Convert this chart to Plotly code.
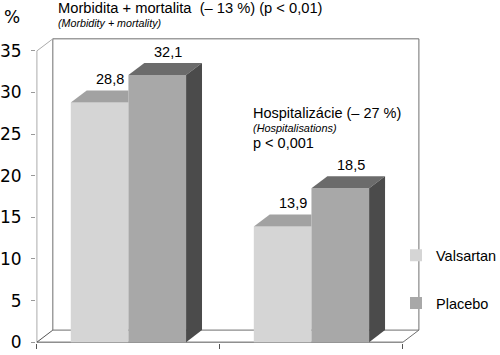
import plotly.graph_objects as go

# ---- data ----
categories = ["Morbidita + mortalita", "Hospitalizácie"]
valsartan = [28.8, 13.9]
placebo = [32.1, 18.5]
series_names = ["Valsartan", "Placebo"]
y_ticks = [0, 5, 10, 15, 20, 25, 30, 35]

# ---- style ----
V_FRONT, V_TOP = "#d5d5d5", "#a2a2a2"
P_FRONT, P_TOP, P_SIDE = "#a8a8a8", "#6b6b6b", "#4b4b4b"
TXT = "Liberation Sans"
W = 0.315          # bar width (category units)
DX, DY = 0.087, 1.45   # 3D depth offset (x units, y units)
YMAX = max(y_ticks)

xc = list(range(len(categories)))

fig = go.Figure()
# front faces
fig.add_trace(go.Bar(x=xc, y=valsartan, width=W, offset=-W, name=series_names[0],
                     marker=dict(color=V_FRONT, line=dict(width=0)), legendgroup="v",
                     hoverinfo="skip"))
fig.add_trace(go.Bar(x=xc, y=placebo, width=W, offset=0, name=series_names[1],
                     marker=dict(color=P_FRONT, line=dict(width=0)), legendgroup="p",
                     hoverinfo="skip"))

def poly(xs, ys, color):
    fig.add_trace(go.Scatter(x=xs + [xs[0]], y=ys + [ys[0]], mode="lines", fill="toself",
                             fillcolor=color, line=dict(width=0, color=color),
                             showlegend=False, hoverinfo="skip"))

for c, v, p in zip(xc, valsartan, placebo):
    x0, x1, x2 = c - W, c, c + W
    # valsartan top (part not hidden by the taller placebo bar)
    poly([x0, x1, x1, x0 + DX], [v, v, v + DY, v + DY], V_TOP)
    # placebo top
    poly([x1, x2, x2 + DX, x1 + DX], [p, p, p + DY, p + DY], P_TOP)
    # placebo side
    poly([x2, x2, x2 + DX, x2 + DX], [0, p, p + DY, DY], P_SIDE)

# value labels
for c, v, p in zip(xc, valsartan, placebo):
    for cx, val in ((c - W / 2, v), (c + W / 2, p)):
        fig.add_annotation(x=cx + DX * 0.65, y=val + DY, text=f"{val:.1f}".replace(".", ","),
                           showarrow=False, yanchor="bottom", yshift=1,
                           font=dict(family=TXT, size=14.5, color="#000"))

# ---- frame (walls / floor) ----
XL, XR = -0.5, len(categories) - 0.5
shapes = [
    dict(type="rect", x0=XL + DX, x1=XR + DX, y0=DY, y1=YMAX + DY, line=dict(color="#6e6e6e", width=1)),
    dict(type="line", x0=XL, x1=XL, y0=0, y1=YMAX, line=dict(color="#ababab", width=1)),
    dict(type="line", x0=XL, x1=XL + DX, y0=YMAX, y1=YMAX + DY, line=dict(color="#ababab", width=1)),
    dict(type="line", x0=XL, x1=XL + DX, y0=0, y1=DY, line=dict(color="#555555", width=1)),
    dict(type="line", x0=XL, x1=XR, y0=0, y1=0, line=dict(color="#555555", width=1)),
    dict(type="line", x0=XR, x1=XR + DX, y0=0, y1=DY, line=dict(color="#6e6e6e", width=1)),
]
for s in shapes:
    s.update(xref="x", yref="y", layer="below")

def ann(text, x, y, size, italic=False, family=TXT):
    fig.add_annotation(xref="paper", yref="paper", x=x, y=y, text=text, showarrow=False,
                       xanchor="left", yanchor="middle",
                       font=dict(family=family, size=size, color="#000",
                                 style="italic" if italic else "normal"))

NB = "\u00a0"
ann("%", -0.088, 1.068, 17, family="DejaVu Sans")
ann("Morbidita + mortalita" + NB + " (\u2013 13 %) (p < 0,01)", 0.052, 1.097, 14.7)
ann("(Morbidity + mortality)", 0.052, 1.049, 10.7, italic=True)
ann("Hospitalizácie (\u2013 27 %)", 0.56, 0.753, 14.5)
ann("(Hospitalisations)", 0.56, 0.704, 10.9, italic=True)
ann("p < 0,001", 0.56, 0.655, 14.5)

fig.update_layout(
    width=500, height=355,
    margin=dict(l=36, r=80, t=38, b=12, autoexpand=False),
    paper_bgcolor="white", plot_bgcolor="white",
    barmode="overlay",
    shapes=shapes,
    showlegend=True,
    legend=dict(xref="container", yref="container", x=0.792, y=0.326,
                xanchor="left", yanchor="top",
                font=dict(family=TXT, size=14.5, color="#000"),
                traceorder="grouped", tracegroupgap=26,
                bgcolor="rgba(0,0,0,0)"),
    xaxis=dict(range=[XL - 0.005, XR + DX + 0.006], showgrid=False, zeroline=False,
               showline=False, tickvals=[XL, 0.5, XR], ticks="outside", ticklen=5,
               tickcolor="#555555", showticklabels=False, fixedrange=True),
    yaxis=dict(range=[-0.1, YMAX + DY + 0.1], showgrid=False, zeroline=False, showline=False,
               tickvals=y_ticks, ticktext=[str(t) for t in y_ticks], ticks="outside",
               ticklen=4, tickcolor="#999999", ticklabelstandoff=6,
               tickfont=dict(family="DejaVu Sans", size=17, color="#000"), fixedrange=True),
)

fig.write_html("out.html", config={"displayModeBar": False},
               post_script="document.body.style.margin='0';")
